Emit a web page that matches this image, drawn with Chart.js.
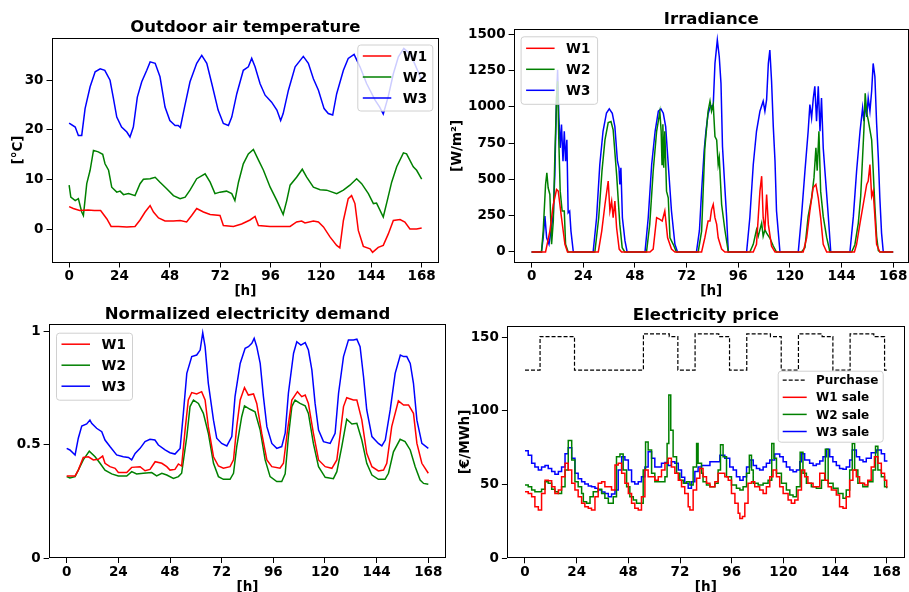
<!DOCTYPE html>
<html>
<head>
<meta charset="utf-8">
<script src="https://cdn.jsdelivr.net/npm/chart.js@4.4.1/dist/chart.umd.min.js"></script>
<style>
  html, body { margin: 0; padding: 0; background: #fff; }
  #page { position: relative; width: 909px; height: 592px; overflow: hidden; background: #fff; }
  #page canvas { position: absolute; }
</style>
</head>
<body>
<div id="page">
  <canvas id="temp-chart"></canvas>
  <canvas id="irr-chart"></canvas>
  <canvas id="dem-chart"></canvas>
  <canvas id="price-chart"></canvas>
</div>
<script>
// tick labels
const hourTicks = [0, 24, 48, 72, 96, 120, 144, 168];
const tempTicks = [0, 10, 20, 30];
const irrTicks = [0, 250, 500, 750, 1000, 1250, 1500];
const demTicks = [0, 0.5, 1];
const priceTicks = [0, 50, 100, 150];

// outdoor air temperature [°C], [hour, value]
const tempW1 = [[0,4.6],[2,4.2],[5,3.8],[9,3.9],[12,3.8],[15,3.8],[18,2.1],[20,0.6],[23.5,0.6],[27.5,0.5],[31.4,0.6],[33.8,1.9],[36.2,3.5],[37.5,4.2],[38.6,4.8],[40.2,3.5],[42.6,2.3],[45.7,1.7],[49.7,1.7],[52.9,1.8],[56,1.5],[58.4,2.8],[60.8,4.2],[64,3.5],[67.2,3],[71.9,2.8],[73.5,0.8],[78.3,0.6],[82.2,1.1],[86.2,1.9],[88.6,2.6],[90.2,0.8],[95.7,0.6],[105.3,0.6],[108.4,1.5],[110.8,1.7],[112.4,1.3],[116.4,1.7],[118.8,1.5],[121.2,0.5],[124.3,-1.5],[127.5,-3.2],[129,-3.7],[130.7,1.8],[133,6.2],[134.6,6.8],[136.2,5.2],[137.8,-0.2],[140.2,-3.4],[143.4,-3.9],[144.6,-4.6],[147.3,-3.6],[149.7,-3.2],[152.1,-0.9],[154.5,1.8],[157.7,2],[160,1.5],[162.4,0.1],[165.6,0.1],[168,0.3]];
const tempW2 = [[0,8.9],[0.8,6.5],[2.9,5.8],[4.4,6.2],[6,3.5],[6.8,2.8],[8.4,9.2],[10,11.9],[11.6,15.9],[13.9,15.6],[16,15.1],[17.1,13.2],[18.8,11.9],[20.3,8.5],[22.7,7.5],[24.3,7.7],[25.9,7],[28.3,7.2],[31.4,6.8],[33.8,9.2],[35.4,10.1],[38.6,10.2],[41,10.5],[43.3,9.5],[46.5,8.2],[49.7,6.8],[52.9,6.2],[55.3,6.5],[57.6,7.9],[60.8,10.2],[64.8,11.2],[67.2,9.5],[69.5,7.2],[71.9,7.5],[75,7.7],[77.5,7.2],[79,5.8],[80.7,9.5],[83,13.2],[85.4,15.2],[87.8,16.1],[90.3,13.9],[92.6,11.9],[95.8,8.5],[99,5.8],[102,3],[103.7,5.8],[105.3,8.9],[108.4,10.5],[111.1,12.1],[113.2,10.5],[116.4,8.5],[119.6,8],[122.7,7.9],[127.5,7.2],[130.7,7.9],[133.8,8.9],[137,10.2],[139.4,9.2],[142.6,7.2],[145,5.2],[146.5,5.3],[149.7,2.5],[151.6,5.8],[153.7,9.5],[156.1,12.6],[159.3,15.4],[160.8,15.2],[164,12.6],[165.6,11.9],[168,10.1]];
const tempW3 = [[0,21.4],[2.9,20.6],[4.4,18.9],[6,18.9],[7.6,24.3],[10,28.7],[12.4,31.7],[14.8,32.3],[17,32],[19.5,30],[21,26.6],[22.7,22.6],[25,20.6],[27.5,19.6],[29,18.6],[30.6,20.6],[32.5,26.6],[34.6,29.7],[37,32],[38.6,33.7],[41,33.4],[43.3,30.7],[45.7,24.6],[48,21.9],[50.5,20.9],[52,20.9],[53,20.5],[55,24.6],[57.6,29.7],[60.8,33.4],[63.2,35],[65.6,33.4],[68,29.3],[71,24],[73.5,21.3],[75.9,20.9],[77.5,22.6],[79.9,27.3],[83,32],[85.4,32.7],[87,34.4],[88.6,32.7],[91,29.3],[93.4,27],[96.5,25.6],[99,24],[100.8,21.9],[102,23.3],[104.5,28],[107.7,32.7],[111.6,34.8],[114,33.4],[116.4,30.3],[118.8,28],[121.5,24.3],[123.5,23.3],[125.6,23],[127.5,27.3],[130.7,32],[133,34.4],[135.8,35.2],[138.6,32.7],[141.8,29.3],[145.8,26],[148,24.6],[149.7,23.2],[152,26.6],[154.5,31.3],[156.9,34.7],[159.5,36.4],[162,35.5],[164.5,33.5],[166.5,31.5],[168,30]];

// irradiance [W/m2]
const irrW1 = [[0,0],[6.5,0],[8.5,144],[10.1,327],[11.6,430],[12.4,419],[13.9,236],[15.5,53],[16.7,0],[31,0],[32.6,144],[34.1,327],[35.6,488],[36.4,282],[37.2,350],[37.9,236],[38.7,350],[39.5,167],[40.7,20],[41.8,0],[55,0],[56.5,20],[58.1,236],[59.6,224],[60.7,213],[61.9,282],[63.2,98],[65,20],[66.6,0],[79,0],[80.5,98],[82,213],[82.9,213],[83.6,290],[84.4,327],[85.2,236],[86,190],[86.7,98],[88.3,20],[89.8,0],[103,0],[104.5,53],[105.3,236],[106.1,419],[106.9,522],[107.6,236],[108.4,150],[109.2,396],[110,190],[111.5,40],[113.1,0],[126.2,0],[127.8,98],[129.3,282],[130.8,442],[132.1,465],[133.2,373],[134.3,236],[135.5,53],[137.1,0],[150,0],[151,53],[152.6,199],[154.1,327],[155.7,465],[156.4,488],[157.2,602],[158,382],[158.7,419],[159.5,245],[160.3,53],[161.8,0],[168,0]];
const irrW2 = [[0,0],[4.6,0],[5.4,144],[6.5,465],[7.1,545],[7.7,442],[8.5,396],[9.3,53],[10.1,213],[10.8,648],[11.6,1060],[12.1,1175],[12.7,740],[13.3,419],[14.2,282],[15.2,282],[15.8,53],[17,0],[29.4,0],[31.2,236],[32.7,556],[34.1,772],[35.6,891],[36.9,898],[37.9,841],[39.5,534],[41,190],[42.1,30],[43.3,0],[53.4,0],[54.9,190],[56.5,556],[58.1,831],[59.6,965],[60.2,831],[60.6,602],[61,880],[61.4,580],[61.9,831],[62.7,419],[63.5,373],[64.3,98],[65.8,53],[67.3,0],[77.4,0],[79,144],[80.5,717],[82,969],[82.9,1038],[83.6,969],[84.4,1015],[85.2,795],[86,772],[86.7,602],[87.2,650],[88.3,327],[89.8,153],[91.4,0],[101.4,0],[103,53],[104.5,153],[105.3,108],[106.9,199],[107.6,108],[108.4,153],[109.2,130],[110.7,96],[112.3,41],[113.8,0],[125.4,0],[127,30],[128.5,245],[130.1,373],[131.2,510],[132.1,717],[132.7,560],[133.5,831],[134.3,419],[135.5,245],[137.1,100],[138.6,0],[148.7,0],[150.2,50],[151.8,199],[152.9,382],[153.8,657],[154.4,841],[155,1092],[155.7,955],[156.4,909],[157.2,841],[158,772],[158.7,566],[159.5,314],[160.3,108],[161.1,10],[162,0],[168,0]];
const irrW3 = [[0,0],[4.6,0],[5.4,98],[6.2,247],[7,98],[8.1,53],[9,144],[10.1,259],[10.8,534],[11.6,1060],[12.1,1255],[12.7,923],[13.3,717],[13.9,877],[14.6,625],[15.2,831],[15.8,625],[16.4,772],[17,270],[17.7,282],[18.3,144],[19.4,0],[28.6,0],[30.2,236],[31.7,602],[33.2,831],[34.8,957],[36.1,985],[37.5,955],[38.7,863],[39.9,625],[40.6,580],[41,465],[41.5,580],[42.2,236],[43.4,76],[44.4,0],[52.7,0],[54.2,236],[55.8,602],[57.4,831],[58.9,969],[60.1,985],[61.2,955],[62.3,863],[63.5,602],[65,282],[66.6,53],[67.8,0],[76.6,0],[78,150],[79,420],[80.2,700],[81,830],[82,950],[83,1000],[84.4,1010],[85.2,1298],[86.3,1459],[87.2,1344],[88,1161],[88.7,726],[89.8,442],[90.6,245],[91.4,0],[99.9,0],[101.4,236],[103,602],[104.5,831],[106.1,969],[107.6,1038],[108.4,969],[109.2,1049],[110,1298],[110.7,1390],[111.5,1175],[112.3,863],[113.1,625],[113.8,282],[115.4,0],[123.9,0],[125.4,245],[127,556],[128.5,831],[129.3,1015],[130.1,923],[130.9,1060],[131.6,1140],[132.4,900],[133.2,1140],[134,831],[134.7,1060],[135.5,717],[136.3,556],[137.8,259],[139,0],[147.9,0],[149.5,245],[151,556],[152.6,831],[153.8,992],[154.4,900],[155,1026],[155.7,930],[156.4,1060],[157.2,969],[158,1108],[158.7,1298],[159.5,1207],[160.3,886],[161.1,648],[161.8,373],[162.6,130],[163.4,0],[168,0]];

// normalized electricity demand
const demW1 = [[0,0.363],[3.9,0.363],[5.4,0.389],[7.7,0.445],[10.1,0.448],[12.4,0.434],[14.7,0.437],[16.7,0.451],[17.8,0.419],[20.1,0.404],[22.5,0.397],[24,0.378],[27.9,0.378],[30.2,0.401],[34.1,0.404],[36.4,0.386],[38.7,0.392],[41.1,0.426],[44.2,0.419],[46.5,0.404],[48,0.389],[50.3,0.392],[51.9,0.416],[53.4,0.407],[55,0.566],[56.5,0.699],[58.1,0.732],[60.4,0.726],[62.7,0.736],[64.3,0.699],[65.8,0.581],[68.2,0.448],[70.5,0.407],[72.8,0.397],[75.9,0.404],[77.5,0.434],[79,0.581],[80.6,0.699],[82.6,0.754],[84.4,0.721],[86.8,0.726],[88.3,0.684],[90.6,0.552],[93,0.434],[95.3,0.404],[99.1,0.397],[100.7,0.419],[102.6,0.566],[104.6,0.699],[107.2,0.736],[109.2,0.714],[110.8,0.721],[112.3,0.684],[114.6,0.552],[117,0.434],[120.1,0.404],[123.2,0.397],[125.5,0.434],[127.1,0.552],[128.6,0.67],[130.1,0.709],[133.2,0.699],[134.8,0.699],[137.1,0.611],[139.4,0.463],[141.8,0.404],[144.8,0.385],[147.2,0.389],[148.7,0.419],[151,0.581],[154.1,0.695],[156.5,0.677],[158.8,0.677],[161.1,0.64],[162.7,0.507],[165,0.419],[168,0.375]];
const demW2 = [[0,0.36],[1.5,0.354],[3.9,0.36],[5.4,0.389],[7.7,0.434],[10.5,0.473],[13.2,0.448],[15.5,0.419],[17.8,0.389],[20.9,0.372],[24,0.363],[27.9,0.363],[30.2,0.382],[32.5,0.372],[35.6,0.375],[39.5,0.378],[41.8,0.363],[44.2,0.375],[46.5,0.367],[49.6,0.352],[51.9,0.36],[53.4,0.375],[55.8,0.537],[57.3,0.67],[58.9,0.699],[61.2,0.684],[63.5,0.64],[65.8,0.552],[68.2,0.419],[70.5,0.36],[72.8,0.348],[75.9,0.348],[77.5,0.375],[79,0.493],[81.3,0.625],[82.6,0.673],[85.2,0.658],[87.5,0.647],[89.9,0.566],[92.2,0.434],[94.5,0.36],[97.6,0.338],[99.9,0.338],[101.5,0.372],[103,0.537],[104.6,0.67],[106.1,0.699],[108.4,0.684],[110.8,0.673],[112.3,0.64],[114.6,0.507],[117,0.404],[120.1,0.357],[123.9,0.351],[125.5,0.382],[127.8,0.493],[130.1,0.614],[132.5,0.593],[134.8,0.596],[137.1,0.522],[139.4,0.419],[141.8,0.367],[144.8,0.348],[147.9,0.348],[149.5,0.375],[151.8,0.47],[154.9,0.525],[157.2,0.515],[159.6,0.478],[161.9,0.404],[164.2,0.345],[165.8,0.33],[168,0.326]];
const demW3 = [[0,0.485],[1.5,0.478],[3.9,0.456],[5.4,0.53],[7,0.584],[9.3,0.593],[10.8,0.61],[11.6,0.596],[13.9,0.574],[16.3,0.559],[17.8,0.522],[20.1,0.493],[23.2,0.456],[26.3,0.448],[28.7,0.445],[30.2,0.434],[31.8,0.463],[34.1,0.485],[36.4,0.515],[38.7,0.525],[41,0.522],[42.6,0.5],[45.7,0.478],[48,0.466],[50.3,0.46],[52.7,0.485],[54.2,0.64],[55.8,0.817],[58.1,0.891],[60.4,0.898],[62,0.92],[63.2,0.997],[64.3,0.935],[65.8,0.773],[68.2,0.61],[69.7,0.53],[72,0.507],[74.4,0.496],[76.7,0.537],[78.2,0.714],[80.6,0.861],[82.9,0.928],[84.4,0.935],[86,0.95],[87.1,0.972],[88.3,0.935],[89.9,0.861],[91.4,0.714],[93,0.581],[95.3,0.507],[97.6,0.485],[99.9,0.493],[101.5,0.552],[103,0.729],[105.4,0.906],[106.9,0.957],[108.8,0.942],[110.8,0.953],[112.3,0.92],[113.9,0.832],[115.4,0.684],[117,0.566],[119.3,0.515],[122.4,0.507],[124.7,0.552],[126.3,0.729],[128.6,0.891],[130.9,0.965],[133.2,0.965],[134.8,0.968],[136.3,0.935],[137.9,0.802],[139.4,0.655],[141.8,0.537],[144.8,0.507],[146.4,0.496],[148,0.522],[150.3,0.655],[152.6,0.817],[155,0.898],[156.5,0.891],[158,0.891],[159.6,0.861],[161.1,0.773],[162.7,0.61],[165,0.507],[168,0.485]];

// electricity price [€/MWh]
const pricePurchase = [[0,127.8],[7,150.5],[23,127.8],[55,152.3],[67,150.5],[71,127.8],[79,152.3],[90,150.5],[95,127.8],[103,152.3],[114,150.5],[119,127.8],[127,152.3],[138,150.5],[143,127.8],[151,152.3],[162,150.5],[167,127.8],[168,127.8]];
const saleW1 = [[0,45.2],[1.5,44],[3.1,41.8],[4.6,35],[6.2,32.8],[7.7,44],[9.3,53],[10.8,52.7],[12.4,48.6],[13.9,44],[15.5,46.3],[17,55.4],[18.6,64.5],[20.1,60],[21.7,51],[23.2,46.3],[24.7,41.8],[26.3,37.3],[27.8,35],[29.4,33.9],[30.9,32.8],[32.5,41.8],[34,51],[35.6,52],[37.1,48.6],[38.7,48.6],[40.2,46.3],[41.8,63.3],[43.3,64.5],[44.9,57.7],[46.4,51],[48,44],[49.5,37.3],[51,33.9],[52.6,32.8],[54.1,41.8],[55.7,60],[57.2,55.4],[58.8,55.4],[60.3,53],[61.9,55.4],[63.4,60],[65,64.5],[66.5,67.9],[68,62],[69.6,57.7],[71.2,53],[72.7,48.6],[74.2,44],[75.8,35],[76.6,32.8],[78.1,46.3],[79.7,54.3],[81.2,61],[82.7,55.4],[84.3,51],[85.9,48.6],[88.2,52],[89.7,57.7],[91.3,57.7],[92.8,55.4],[94.4,53],[95.9,44],[97.5,37.3],[99,30.5],[99.8,27.1],[101,28.3],[102.1,37.3],[103.6,51],[105.2,52],[106.7,48.6],[109,46.3],[110.6,44],[112.1,48.6],[113.7,55.4],[115.2,60],[116.8,55.4],[118.3,48.6],[119.9,44],[122.2,39.6],[123.7,37.3],[125.3,39.6],[126.8,46.3],[128.4,60],[129.9,55.4],[131.4,51],[133.8,48.6],[136.9,57.7],[139.2,53],[140.8,48.6],[142.3,46.3],[144.6,42.9],[146.1,35],[147.7,33.9],[149.2,41.8],[150.8,53],[152.3,60],[153.9,55.4],[155.4,51],[157.7,49.8],[159.2,53],[160.8,62],[162.3,69],[163.9,64.5],[165.5,57.7],[167,53],[168,48]];
const saleW2 = [[0,49.8],[1.5,48.6],[3.1,46.3],[4.6,45.2],[6.2,45.2],[7.7,46.8],[9.3,52],[10.8,50.9],[12.4,46.8],[13.9,45.2],[15.5,44],[17,48.6],[18.6,60],[20.1,80],[21.7,66.7],[23.2,52],[24.7,48.6],[26.3,44],[27.1,38.4],[28.6,37.3],[30.2,41.8],[31.7,45.2],[34,46.8],[35.6,44],[37.1,40.7],[38.7,37.3],[40.2,37.3],[41,41.8],[42.5,69],[44.1,70.8],[45.6,60],[47.2,48.6],[48.7,41.8],[50.3,39.6],[51.8,37.3],[53.4,37.3],[54.9,60],[56,79],[57.2,73.5],[58.8,57.7],[60.3,52],[61.9,52],[63.4,52],[65,55.4],[66,78],[66.8,110.8],[67.7,87],[68.8,69],[70.4,57.7],[71.9,53],[73.5,51],[75,52],[76.6,49.8],[78.1,62],[79.7,78],[80.4,64.5],[82,57.7],[82.7,52],[84.3,49.8],[85.9,48.6],[88.2,51],[89.7,60],[90.8,77],[92,69],[93.6,55.4],[95.9,49.8],[98.2,47.5],[99.8,46.3],[101.3,48.6],[102.9,57.7],[104.2,70],[105.2,60],[106,51],[108.3,49.8],[110.6,51],[112.9,53],[114.6,78],[115.6,67.9],[116.8,57.7],[119.1,51],[121.4,46.3],[123,43],[124.5,41.8],[126.1,48.6],[127.8,72],[129.1,57.7],[130.7,51],[133,48.6],[135.3,47.5],[137.7,53],[139.5,74],[140.8,51],[143.1,47.5],[145.4,44],[147.7,40.7],[149.2,46.3],[150.8,60],[152,78],[153.1,60],[154.6,51],[156.9,48.6],[159.2,52],[161.6,60],[162.8,76],[163.9,60],[165.5,55.4],[167,48.6],[168,47.5]];
const saleW3 = [[0,73],[1.5,70],[3.1,64.5],[4.6,62],[6.2,60],[7.7,62],[9.3,63],[10.8,61],[12.4,59],[13.9,57],[15.5,59],[17,62],[18.6,71],[20.1,75],[21.7,68],[23.2,57.7],[24.7,54],[26.3,52],[27.8,50.4],[29.4,49],[30.9,48.6],[32.5,47.5],[34,46.4],[35.6,45],[37.1,44],[38.7,41.8],[40.2,43.6],[41.8,46.4],[43.3,60],[44.9,69],[46.4,66.7],[48,60],[49.5,52],[51,50.4],[52.6,52],[54.1,55.4],[55.7,62],[57.2,72.4],[58.8,68],[60.3,62],[61.9,62],[63.4,64.5],[65,65],[66.5,63],[68,65.6],[69.6,64.5],[71.2,60],[72.7,55],[74.2,51],[75.8,47.5],[77.3,52],[78.9,59],[80.4,62],[82,63],[83.5,63],[85.9,65.6],[88,65.6],[90.5,70],[92.8,68],[95.1,62],[96.7,60],[98.2,55.4],[99.8,53],[101.3,55.4],[102.9,62],[104.4,66.7],[106,63],[107.5,61],[109,60],[110.6,62],[112.1,64.5],[113.7,66.7],[116,70.8],[118.3,69],[119.9,65.6],[121.4,62],[123,60],[124.5,58.8],[126.1,60],[127.6,65.6],[128.4,71],[129.9,66.7],[132.2,64.5],[133.8,63],[135.3,64],[136.9,66],[138.4,69],[140,74],[141.5,69],[143,65.6],[144.6,63],[146.1,61],[147.7,60.4],[149.2,62],[150.8,66.7],[152,73.5],[153.9,69],[155.4,66.7],[157,65.6],[158.5,68],[160.8,71.7],[163.1,73.5],[165.5,71],[167,66],[168,65.6]];

const FONT = '"DejaVu Sans", "Liberation Sans", sans-serif';
const tickFont = { family: FONT, size: 13.5, weight: 'bold', lineHeight: 1.2 };
const RED = '#ff0000', GREEN = '#008000', BLUE = '#0000ff';

Chart.defaults.font.family = FONT;

// frame, title and an in-plot legend like matplotlib draws them
const panelDecor = {
  id: 'panelDecor',
  afterDatasetsDraw(chart, args, o) {
    const { ctx, chartArea: a } = chart;
    ctx.save();
    ctx.strokeStyle = '#000';
    ctx.lineWidth = 1;
    const l = Math.round(a.left) + 0.5, t = Math.round(a.top) + 0.5;
    const r = Math.round(a.right) - 0.5, b = Math.round(a.bottom) - 0.5;
    ctx.strokeRect(l, t, r - l, b - t);

    ctx.fillStyle = '#000';
    ctx.font = 'bold 16.5px ' + FONT;
    ctx.textAlign = 'center';
    ctx.textBaseline = 'alphabetic';
    ctx.fillText(o.title, (a.left + a.right) / 2, a.top - 5.5);

    const g = o.legend;
    const x0 = g.fromRight ? a.right - g.dx - g.w : a.left + g.dx;
    const y0 = a.top + g.dy;
    ctx.beginPath();
    if (ctx.roundRect) ctx.roundRect(x0 + 0.5, y0 + 0.5, g.w, g.h, 3);
    else ctx.rect(x0 + 0.5, y0 + 0.5, g.w, g.h);
    ctx.fillStyle = 'rgba(255,255,255,0.8)';
    ctx.fill();
    ctx.strokeStyle = '#d0d0d0';
    ctx.stroke();

    ctx.font = 'bold ' + g.size + 'px ' + FONT;
    ctx.textAlign = 'left';
    ctx.textBaseline = 'middle';
    chart.data.datasets.forEach((ds, i) => {
      const yy = y0 + g.first + i * g.step;
      ctx.strokeStyle = ds.borderColor;
      ctx.lineWidth = ds.borderWidth;
      ctx.setLineDash(ds.borderDash || []);
      ctx.beginPath();
      ctx.moveTo(x0 + g.lx, yy);
      ctx.lineTo(x0 + g.lx + g.ll, yy);
      ctx.stroke();
      ctx.setLineDash([]);
      ctx.fillStyle = '#000';
      ctx.fillText(ds.label, x0 + g.tx, yy + 1);
    });
    ctx.restore();
  }
};

function series(label, pairs, color, extra) {
  return Object.assign({
    label,
    data: pairs.map(([x, y]) => ({ x, y })),
    borderColor: color,
    borderWidth: 1.5,
    pointRadius: 0,
    tension: 0,
    fill: false
  }, extra || {});
}

function makePanel(id, pos, box, cfg) {
  const el = document.getElementById(id);
  el.width = pos.w;
  el.height = pos.h;
  Object.assign(el.style, { left: pos.x + 'px', top: pos.y + 'px', width: pos.w + 'px', height: pos.h + 'px' });
  const yW = box.L - pos.x;
  const xH = pos.y + pos.h - box.B;

  return new Chart(el, {
    type: 'line',
    data: { datasets: cfg.datasets },
    options: {
      responsive: false,
      animation: false,
      devicePixelRatio: 1,
      events: [],
      layout: { padding: { left: 0, top: box.T - pos.y, right: Math.max(pos.x + pos.w - box.R, 0), bottom: 0 } },
      plugins: {
        legend: { display: false },
        title: { display: false },
        tooltip: { enabled: false },
        panelDecor: { title: cfg.title, legend: cfg.legend }
      },
      scales: {
        x: {
          type: 'linear',
          min: cfg.xMin, max: cfg.xMax,
          afterBuildTicks: (s) => { s.ticks = hourTicks.map((v) => ({ value: v })); },
          afterFit: (s) => { s.height = xH; s.paddingLeft = 0; s.paddingRight = 0; },
          ticks: { color: '#000', font: tickFont, padding: 1, maxRotation: 0, autoSkip: false, callback: (v) => String(v) },
          grid: { drawOnChartArea: false, drawTicks: true, tickLength: 5, color: '#000' },
          border: { display: false },
          title: { display: true, text: '[h]', color: '#000', font: tickFont, padding: { top: 0, bottom: cfg.xTitlePad } }
        },
        y: {
          type: 'linear',
          min: cfg.yMin, max: cfg.yMax,
          afterBuildTicks: (s) => { s.ticks = cfg.yTicks.map((v) => ({ value: v })); },
          afterFit: (s) => { s.width = yW; s.paddingTop = 0; s.paddingBottom = 0; },
          ticks: { color: '#000', font: tickFont, padding: 3, autoSkip: false, callback: (v) => String(v) },
          grid: { drawOnChartArea: false, drawTicks: true, tickLength: 5, color: '#000' },
          border: { display: false },
          title: { display: !!cfg.yTitle, text: cfg.yTitle || '', color: '#000', font: tickFont, padding: { top: cfg.yTitlePad || 0, bottom: 0 } }
        }
      }
    },
    plugins: [panelDecor]
  });
}

const bigLegend = { size: 13.5, w: 75, h: 66, first: 11.5, step: 21, lx: 5.5, ll: 28.5, tx: 45.5 };

makePanel('temp-chart',
  { x: 0, y: 0, w: 455, h: 300 },
  { L: 51.5, T: 37.5, R: 439.3, B: 262.5 },
  {
    title: 'Outdoor air temperature',
    xMin: -8.4, xMax: 176.4, yMin: -6.65, yMax: 38.6, yTicks: tempTicks,
    yTitle: '[°C]', yTitlePad: 9.9, xTitlePad: 0.2,
    legend: Object.assign({ fromRight: true, dx: 7, dy: 7 }, bigLegend),
    datasets: [series('W1', tempW1, RED), series('W2', tempW2, GREEN), series('W3', tempW3, BLUE)]
  });

makePanel('irr-chart',
  { x: 440, y: 0, w: 469, h: 300 },
  { L: 513.6, T: 29.3, R: 909, B: 262.6 },
  {
    title: 'Irradiance',
    xMin: -8.35, xMax: 175.35, yMin: -73, yMax: 1533, yTicks: irrTicks,
    yTitle: '[W/m²]', yTitlePad: 9.4, xTitlePad: 0.2,
    legend: Object.assign({ fromRight: false, dx: 7, dy: 7 }, bigLegend, { w: 76.5, h: 67.5, first: 12 }),
    datasets: [series('W1', irrW1, RED), series('W2', irrW2, GREEN), series('W3', irrW3, BLUE)]
  });

makePanel('dem-chart',
  { x: 0, y: 296, w: 455, h: 304 },
  { L: 48.6, T: 324.3, R: 446.4, B: 558 },
  {
    title: 'Normalized electricity demand',
    xMin: -8.4, xMax: 176.4, yMin: 0, yMax: 1.034, yTicks: demTicks,
    xTitlePad: 4.4,
    legend: Object.assign({ fromRight: false, dx: 7.4, dy: 8.4 }, bigLegend, { w: 76, h: 67 }),
    datasets: [series('W1', demW1, RED), series('W2', demW2, GREEN), series('W3', demW3, BLUE)]
  });

makePanel('price-chart',
  { x: 440, y: 296, w: 469, h: 304 },
  { L: 506.9, T: 325.7, R: 904.8, B: 558.3 },
  {
    title: 'Electricity price',
    xMin: -8.4, xMax: 176.4, yMin: 0, yMax: 157.9, yTicks: priceTicks,
    yTitle: '[€/MWh]', yTitlePad: 16.9, xTitlePad: 4.4,
    legend: { fromRight: false, dx: 270.8, dy: 45, size: 12, w: 105, h: 71, first: 9.5, step: 17.1, lx: 5, ll: 24, tx: 38.3 },
    datasets: [
      series('Purchase', pricePurchase, '#000', { stepped: true, borderDash: [4, 2], borderWidth: 1.2 }),
      series('W1 sale', saleW1, RED, { stepped: true }),
      series('W2 sale', saleW2, GREEN, { stepped: true }),
      series('W3 sale', saleW3, BLUE, { stepped: true })
    ]
  });
</script>
</body>
</html>
